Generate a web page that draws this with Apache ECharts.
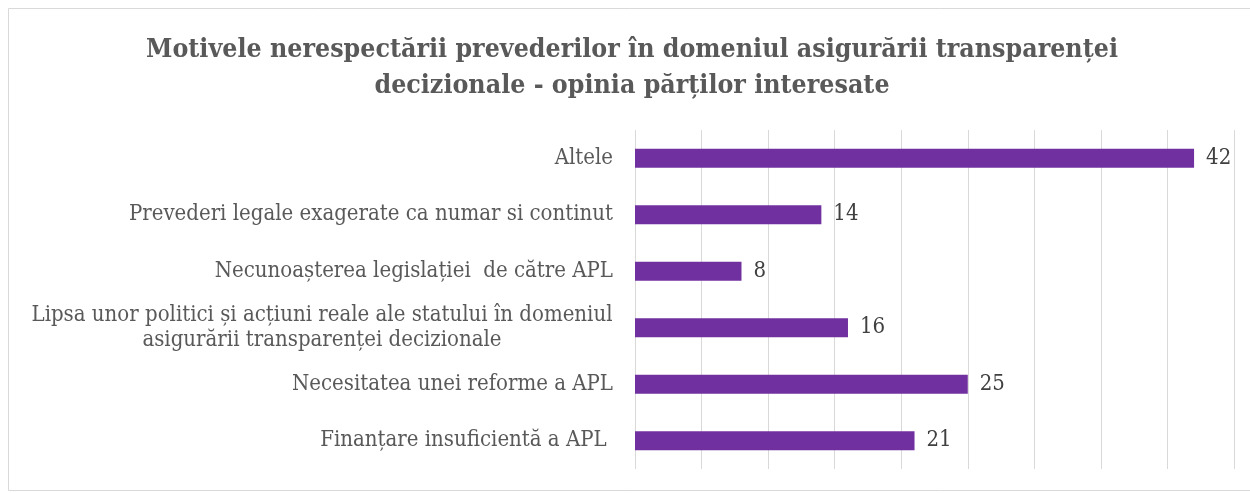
<!DOCTYPE html>
<html>
<head>
<meta charset="utf-8">
<script src="https://cdn.jsdelivr.net/npm/echarts@6/dist/echarts.min.js"></script>
<style>
  html, body { margin: 0; padding: 0; background: #fff; }
  #chart { width: 1250px; height: 493px; }
</style>
</head>
<body>
<div id="chart"></div>
<script>
var categories = [
  'Altele',
  'Prevederi legale exagerate ca numar si continut',
  'Necunoașterea legislației  de către APL',
  'Lipsa unor politici și acțiuni reale ale statului în domeniul\nasigurării transparenței decizionale',
  'Necesitatea unei reforme a APL',
  'Finanțare insuficientă a APL '
];
var values = [42, 14, 8, 16, 25, 21];

var titleText = 'Motivele nerespectării prevederilor în domeniul asigurării transparenței\ndecizionale - opinia părților interesate';

var labelFont = '"DejaVu Serif Condensed", "DejaVu Serif"';
var labelSize = 22;

// width of the first line, so wrapped labels centre under it
function textWidth(s) {
  var ctx = document.createElement('canvas').getContext('2d');
  ctx.font = labelSize + 'px ' + labelFont;
  return Math.ceil(ctx.measureText(s).width);
}

var chart = echarts.init(document.getElementById('chart'));

var option = {
  backgroundColor: '#fff',
  title: {
    text: titleText,
    left: 627,
    textAlign: 'center',
    top: 27,
    textStyle: {
      fontFamily: labelFont,
      fontWeight: 'bold',
      fontSize: 26.5,
      lineHeight: 36,
      color: '#595959'
    }
  },
  graphic: [
    {
      type: 'rect',
      shape: { x: 8.5, y: 8.5, width: 1250, height: 482 },
      style: { fill: 'none', stroke: '#d9d9d9', lineWidth: 1 },
      silent: true
    }
  ],
  grid: {
    left: 635,
    right: 16,
    top: 130,
    bottom: 24
  },
  xAxis: {
    type: 'value',
    min: 0,
    max: 45,
    interval: 5,
    axisLabel: { show: false },
    axisLine: { show: false },
    axisTick: { show: false },
    splitLine: { lineStyle: { color: '#d9d9d9', width: 1 } }
  },
  yAxis: {
    type: 'category',
    inverse: true,
    data: categories,
    axisLine: { show: false },
    axisTick: { show: false },
    axisLabel: {
      margin: 22,
      fontFamily: labelFont,
      fontSize: labelSize,
      lineHeight: 25,
      color: '#595959',
      formatter: function (v) {
        if (v.indexOf('\n') >= 0) {
          var parts = v.split('\n');
          return '{c|' + parts[0] + '}\n{c|' + parts[1] + '}';
        }
        return v;
      },
      rich: {
        c: {
          width: textWidth(categories[3].split('\n')[0]),
          align: 'center',
          fontFamily: labelFont,
          fontSize: labelSize,
          lineHeight: 25,
          color: '#595959'
        }
      }
    }
  },
  series: [
    {
      type: 'bar',
      data: values,
      barWidth: 19,
      itemStyle: { color: '#7030a0' },
      label: {
        show: true,
        position: 'right',
        distance: 12,
        fontFamily: labelFont,
        fontSize: 22,
        color: '#404040'
      }
    }
  ]
};

chart.setOption(option);
</script>
</body>
</html>
